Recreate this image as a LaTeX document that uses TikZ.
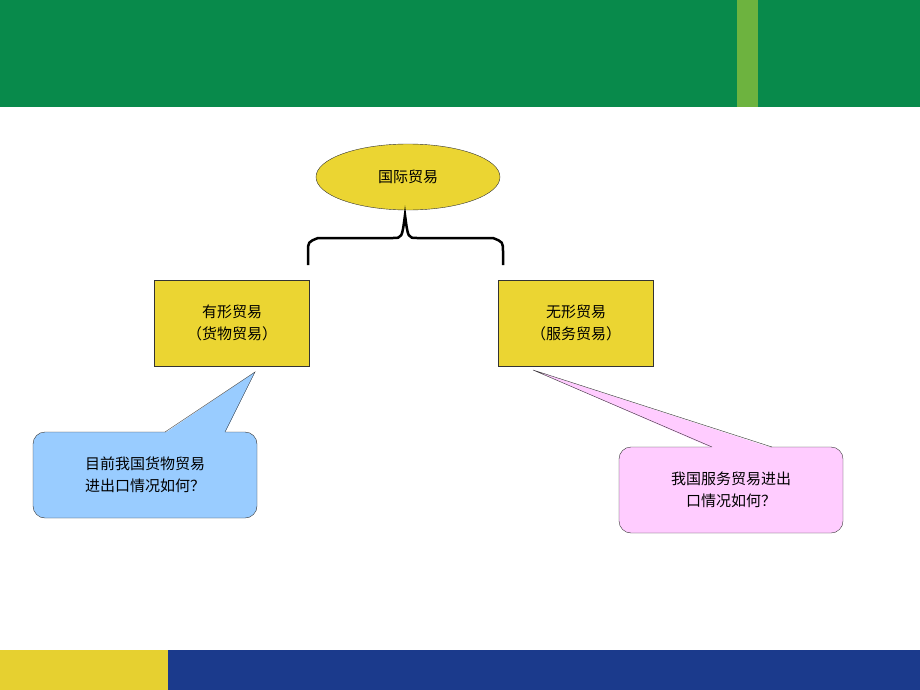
\documentclass[tikz,border=0pt]{standalone}
\usepackage{fontspec}
\setmainfont{Noto Sans CJK SC}
\usetikzlibrary{shapes.geometric}
\definecolor{bargreen}{HTML}{088A4B}
\definecolor{stripgreen}{HTML}{6DB33F}
\definecolor{baryellow}{HTML}{E6D030}
\definecolor{barblue}{HTML}{1B3A8C}
\definecolor{boxyellow}{HTML}{EBD532}
\definecolor{callblue}{HTML}{99CCFF}
\definecolor{callpink}{HTML}{FFCCFF}
\tikzset{
  tradebox/.style={draw=black!80,fill=boxyellow,minimum width=155pt,minimum height=86pt,align=center,font=\fontsize{15}{22}\selectfont},
  callbox/.style={draw=black!80,rounded corners=12pt,minimum width=224pt,minimum height=86pt,align=center,font=\fontsize{15}{22}\selectfont}
}
\begin{document}
\begin{tikzpicture}[x=1pt,y=-1pt]
\useasboundingbox (0,0) rectangle (920,690);
% bars
\fill[bargreen] (0,0) rectangle (920,107);
\fill[stripgreen] (737,0) rectangle (758,107);
\fill[baryellow] (0,650) rectangle (168,690);
\fill[barblue] (168,650) rectangle (920,690);
% top
\node[ellipse,draw=black!80,fill=boxyellow,minimum width=184pt,minimum height=66pt,font=\fontsize{15}{18}\selectfont] (trade) at (408,177) {国际贸易};
\draw[line width=2.5pt] (308,265) -- (308,252) .. controls (308,242) .. (318,238) -- (393,238)
  .. controls (402,238) .. (405,215) .. controls (408,238) .. (417,238) -- (493,238)
  .. controls (503,242) .. (503,252) -- (503,265);
% boxes
\node[tradebox] (goods) at (232,323) {有形贸易\\（货物贸易）};
\node[tradebox] (service) at (576,323) {无形贸易\\（服务贸易）};
% callouts
\node[callbox,fill=callblue] (askgoods) at (145,475) {目前我国货物贸易\\进出口情况如何？};
\fill[callblue] (165,433) -- (255,372) -- (225,433) -- cycle;
\draw[black!80] (165,432) -- (255,372) -- (225,432);
\node[callbox,fill=callpink] (askservice) at (731,490) {我国服务贸易进出\\口情况如何？};
\fill[callpink] (712,448) -- (533,370) -- (772,448) -- cycle;
\draw[black!80] (712,447) -- (533,370) -- (772,447);
\end{tikzpicture}
\end{document}
